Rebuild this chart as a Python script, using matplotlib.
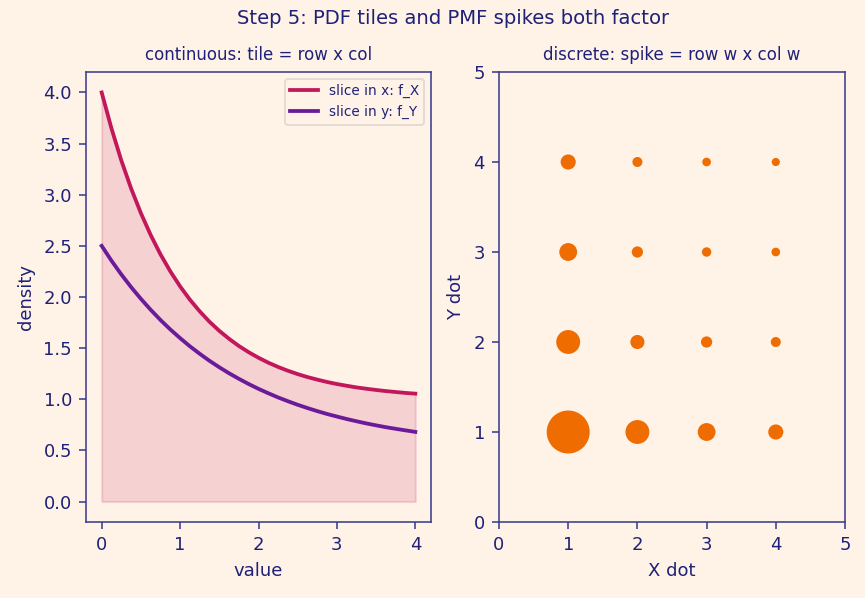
import matplotlib
matplotlib.use("Agg")
import matplotlib.pyplot as plt

# continuous slices
x_vals = [0.0, 0.125, 0.25, 0.375, 0.5, 0.625, 0.75, 0.875, 1.0,
          1.125, 1.25, 1.375, 1.5, 1.625, 1.75, 1.875, 2.0,
          2.125, 2.25, 2.375, 2.5, 2.625, 2.75, 2.875, 3.0,
          3.125, 3.25, 3.375, 3.5, 3.625, 3.75, 3.875, 4.0]
f_x = [4.000, 3.648, 3.336, 3.062, 2.820, 2.606, 2.417, 2.251, 2.104,
       1.974, 1.860, 1.758, 1.669, 1.591, 1.521, 1.460, 1.406,
       1.358, 1.316, 1.279, 1.246, 1.217, 1.192, 1.169, 1.149,
       1.132, 1.116, 1.103, 1.091, 1.080, 1.071, 1.062, 1.055]
f_y = [2.500, 2.355, 2.221, 2.097, 1.982, 1.875, 1.775, 1.683, 1.598,
       1.518, 1.445, 1.376, 1.313, 1.254, 1.200, 1.149, 1.102,
       1.059, 1.018, 0.981, 0.946, 0.914, 0.884, 0.856, 0.831,
       0.807, 0.785, 0.764, 0.745, 0.727, 0.711, 0.696, 0.681]

# discrete spikes: grid positions and relative weights
dot_pos = [1, 2, 3, 4]
row_w = [1.0, 0.29, 0.15, 0.10]
col_w = [1.0, 0.29, 0.15, 0.10]

BG = "#fff2e7"
INK = "#1f2178"
SPINE = "#3d3f8f"
RED = "#c2185b"
PURPLE = "#6a1b9a"
ORANGE = "#ef6c00"

plt.rcParams.update({
    "figure.facecolor": BG,
    "axes.facecolor": BG,
    "axes.edgecolor": SPINE,
    "axes.labelcolor": INK,
    "xtick.color": SPINE,
    "ytick.color": SPINE,
    "xtick.labelcolor": INK,
    "ytick.labelcolor": INK,
    "text.color": INK,
    "font.size": 9,
})

fig = plt.figure(figsize=(865 / 144, 598 / 144), dpi=144)
ax1 = fig.add_axes([86 / 865, 1 - 522 / 598, 345 / 865, 450 / 598])
ax2 = fig.add_axes([499 / 865, 1 - 522 / 598, 346 / 865, 450 / 598])

# left: continuous
ax1.fill_between(x_vals, 0, f_x, color=RED, alpha=0.15)
ax1.plot(x_vals, f_x, color=RED, lw=1.9, label="slice in x: f_X")
ax1.plot(x_vals, f_y, color=PURPLE, lw=1.9, label="slice in y: f_Y")
ax1.set_title("continuous: tile = row x col", fontsize=8.3)
ax1.set_xlabel("value")
ax1.set_ylabel("density")
leg = ax1.legend(loc="upper right", fontsize=6.8, facecolor=BG, edgecolor="#e0d6d0")
for t in leg.get_texts():
    t.set_color(INK)

# right: discrete
xs, ys, ss = [], [], []
for i, yv in enumerate(dot_pos):
    for j, xv in enumerate(dot_pos):
        xs.append(xv)
        ys.append(yv)
        ss.append(12 + 450 * row_w[i] * col_w[j])
ax2.scatter(xs, ys, s=ss, color=ORANGE, linewidths=0)
ax2.set_xlim(0, 5)
ax2.set_ylim(0, 5)
ax2.set_xticks(range(6))
ax2.set_yticks(range(6))
ax2.set_title("discrete: spike = row w x col w", fontsize=8.3)
ax2.set_xlabel("X dot")
ax2.set_ylabel("Y dot")

fig.suptitle("Step 5: PDF tiles and PMF spikes both factor", fontsize=9.8,
             x=453 / 865, y=0.985)

fig.savefig("out.png", dpi=144, facecolor=BG)
